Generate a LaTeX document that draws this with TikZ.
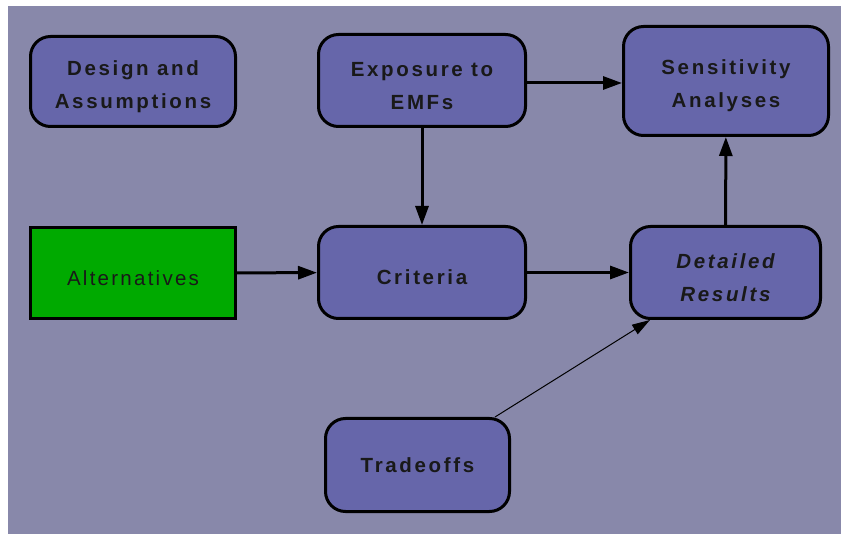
\documentclass[tikz,border=0pt]{standalone}
\usepackage{fontspec}
\setmainfont{Liberation Sans}
\usetikzlibrary{arrows.meta, positioning}
\definecolor{bgpurple}{HTML}{8888AA}
\definecolor{boxpurple}{HTML}{6666AA}
\definecolor{altgreen}{HTML}{00AA00}
% taller first line, so the text sits a little low in its box
\newcommand{\toppad}{\rule{0pt}{25pt}}

\begin{document}
\begin{tikzpicture}[x=1pt, y=-1pt]
        % Define styles
        \tikzset{
            stage/.style={draw=black, line width=3pt, fill=boxpurple, rounded corners=20pt,
                align=center, text=black!90, inner sep=0pt,
                font={\fontsize{20.5}{33}\selectfont\bfseries\addfontfeature{LetterSpace=13}}},
            option/.style={draw=black, line width=3pt, fill=altgreen, align=center,
                text=black!90, inner sep=0pt,
                font={\fontsize{20.5}{33}\selectfont\addfontfeature{LetterSpace=11}}},
            flow/.style={line width=3pt, -{Triangle[length=19pt, width=13pt]}},
            thinflow/.style={line width=1pt, -{Triangle[length=18pt, width=11pt]}}
        }
        % Canvas and background
        \useasboundingbox (0,0) rectangle (841,534);
        \fill[bgpurple] (8,6) rectangle (841,534);
        % Top row
        \node[stage, minimum width=205pt, minimum height=90pt] (design) at (133,81.5) {\toppad Design and\\Assumptions};
        \node[stage, minimum width=207pt, minimum height=92pt] (exposure) at (422,80.5) {\toppad Exposure to\\EMFs};
        \node[stage, minimum width=205pt, minimum height=109pt] (sensitivity) at (726,81) {\toppad Sensitivity\\Analyses};
        % Middle row
        \node[option, minimum width=205pt, minimum height=91pt] (alternatives) at (133,273) {\toppad Alternatives};
        \node[stage, minimum width=207pt, minimum height=92pt] (criteria) at (422,272.5) {\toppad Criteria};
        \node[stage, minimum width=190pt, minimum height=92pt] (detailed) at (725.5,272.5) {\toppad\itshape Detailed\\\itshape Results};
        % Bottom row
        \node[stage, minimum width=184pt, minimum height=93pt] (tradeoffs) at (417.5,465) {Tradeoffs};
        % Connectors
        \draw[flow] (exposure.east |- 0,83) -- (sensitivity.west |- 0,83);
        \draw[flow] (exposure) -- (criteria);
        \draw[flow] (alternatives) -- (criteria);
        \draw[flow] (criteria) -- (detailed);
        \draw[flow] (detailed) -- (sensitivity);
        \draw[thinflow] ([xshift=-16pt]tradeoffs.north east) -- ([xshift=21pt]detailed.south west);
    \end{tikzpicture}
\end{document}
